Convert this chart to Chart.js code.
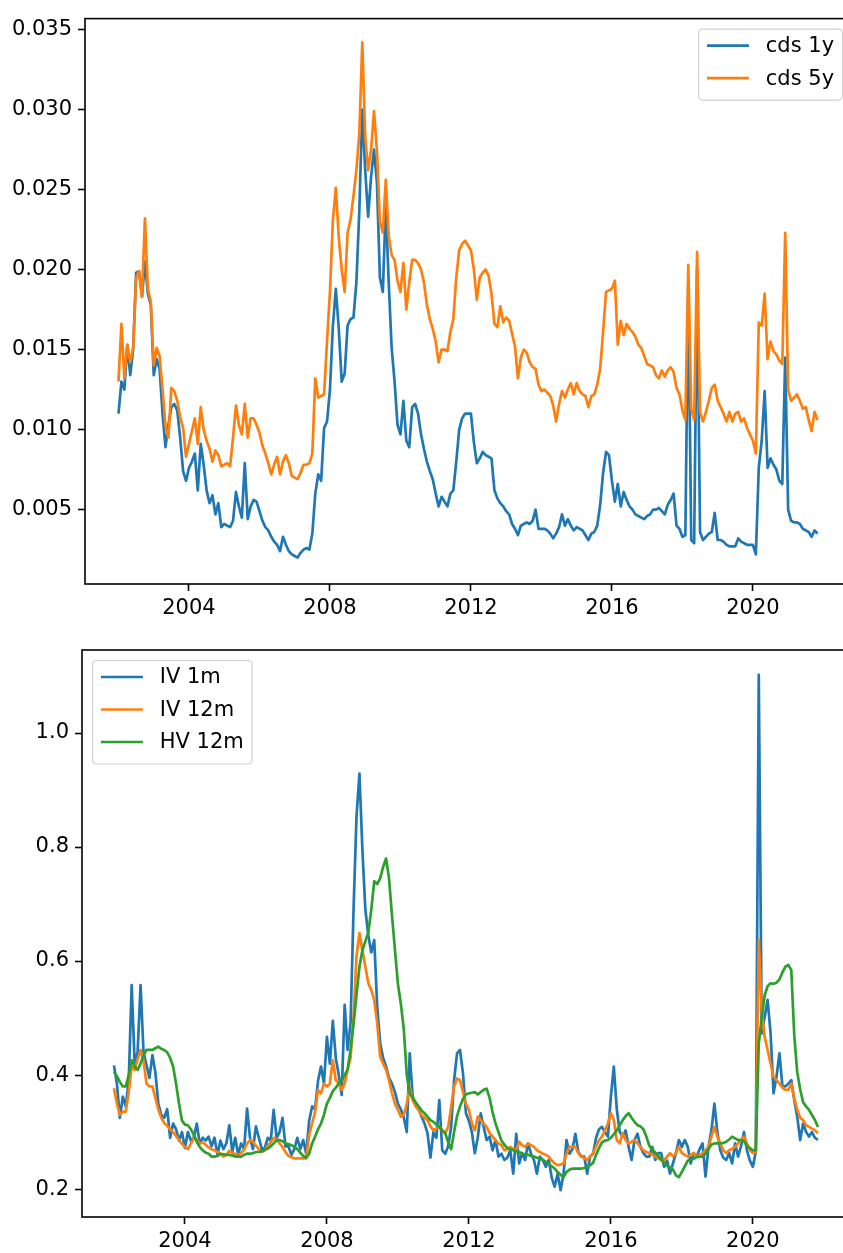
<!DOCTYPE html>
<html>
<head>
<meta charset="utf-8">
<script src="https://cdn.jsdelivr.net/npm/chart.js@4.4.1/dist/chart.umd.min.js"></script>
<style>
  html, body { margin: 0; padding: 0; background: #fff; overflow: hidden; width: 843px; height: 1253px; }
  .panel { position: absolute; left: 0; }
  #cds-panel { top: 0; }
  #vol-panel { top: 630px; }
</style>
</head>
<body>
<div class="panel" id="cds-panel"><canvas id="cds" width="860" height="630"></canvas></div>
<div class="panel" id="vol-panel"><canvas id="vol" width="862" height="623"></canvas></div>
<script>
// monthly series, first value is January 2002
const START_YEAR = 2002;

const xTickYears = [2004, 2008, 2012, 2016, 2020];
const cdsTicks = [0.005, 0.010, 0.015, 0.020, 0.025, 0.030, 0.035];
const volTicks = [0.2, 0.4, 0.6, 0.8, 1.0];

const cds1y = [
  0.0110, 0.0130, 0.0125, 0.0153, 0.0134, 0.0150, 0.0198, 0.0199, 0.0183, 0.0205, 0.0185, 0.0178,
  0.0134, 0.0144, 0.0138, 0.0110, 0.0089, 0.0103, 0.0114, 0.0116, 0.0112, 0.0095, 0.0074, 0.0068,
  0.0076, 0.0080, 0.0085, 0.0062, 0.0091, 0.0078, 0.0062, 0.0054, 0.0059, 0.0047, 0.0054, 0.0039,
  0.0041, 0.0040, 0.0039, 0.0043, 0.0061, 0.0052, 0.0045, 0.0079, 0.0044, 0.0052, 0.0056, 0.0055,
  0.0049, 0.0043, 0.0039, 0.0037, 0.0033, 0.0030, 0.0028, 0.0024, 0.0033, 0.0028, 0.0024, 0.0022,
  0.0021, 0.0020, 0.0023, 0.0025, 0.0026, 0.0025, 0.0035, 0.0060, 0.0072, 0.0068, 0.0101, 0.0105,
  0.0125, 0.0165, 0.0188, 0.0163, 0.0130, 0.0135, 0.0165, 0.0169, 0.0170, 0.0192, 0.0237, 0.0300,
  0.0262, 0.0233, 0.0258, 0.0275, 0.0254, 0.0195, 0.0186, 0.0240, 0.0192, 0.0151, 0.0130, 0.0103,
  0.0097, 0.0118, 0.0093, 0.0089, 0.0114, 0.0116, 0.0110, 0.0097, 0.0088, 0.0080, 0.0074, 0.0069,
  0.0060, 0.0052, 0.0058, 0.0055, 0.0052, 0.0060, 0.0062, 0.0080, 0.0100, 0.0107, 0.0110, 0.0110,
  0.0110, 0.0092, 0.0079, 0.0082, 0.0086, 0.0084, 0.0083, 0.0082, 0.0062, 0.0057, 0.0054, 0.0052,
  0.0049, 0.0047, 0.0041, 0.0038, 0.0034, 0.0040, 0.0041, 0.0042, 0.0041, 0.0043, 0.0050, 0.0038,
  0.0038, 0.0038, 0.0037, 0.0035, 0.0032, 0.0035, 0.0039, 0.0047, 0.0040, 0.0044, 0.0040, 0.0037,
  0.0039, 0.0038, 0.0037, 0.0034, 0.0031, 0.0035, 0.0036, 0.0040, 0.0053, 0.0073, 0.0086, 0.0084,
  0.0068, 0.0055, 0.0066, 0.0052, 0.0061, 0.0056, 0.0052, 0.0050, 0.0047, 0.0046, 0.0045, 0.0044,
  0.0046, 0.0047, 0.0050, 0.0050, 0.0051, 0.0049, 0.0047, 0.0053, 0.0056, 0.0060, 0.0040, 0.0038,
  0.0033, 0.0034, 0.0190, 0.0031, 0.0029, 0.0200, 0.0036, 0.0031, 0.0033, 0.0035, 0.0036, 0.0048,
  0.0031, 0.0031, 0.0030, 0.0028, 0.0027, 0.0027, 0.0027, 0.0032, 0.0030, 0.0029, 0.0028, 0.0028,
  0.0028, 0.0022, 0.0076, 0.0093, 0.0124, 0.0076, 0.0082, 0.0078, 0.0075, 0.0068, 0.0066, 0.0145,
  0.0050, 0.0043, 0.0042, 0.0042, 0.0041, 0.0038, 0.0037, 0.0036, 0.0033, 0.0037, 0.0035
];

const cds5y = [
  0.0130, 0.0166, 0.0132, 0.0153, 0.0142, 0.0151, 0.0195, 0.0199, 0.0183, 0.0232, 0.0188, 0.0180,
  0.0140, 0.0151, 0.0146, 0.0125, 0.0102, 0.0095, 0.0126, 0.0124, 0.0118, 0.0108, 0.0101, 0.0083,
  0.0091, 0.0099, 0.0107, 0.0091, 0.0114, 0.0100, 0.0093, 0.0088, 0.0080, 0.0087, 0.0084, 0.0077,
  0.0078, 0.0079, 0.0077, 0.0095, 0.0115, 0.0103, 0.0097, 0.0116, 0.0095, 0.0107, 0.0107, 0.0103,
  0.0098, 0.0090, 0.0085, 0.0079, 0.0072, 0.0078, 0.0083, 0.0072, 0.0080, 0.0084, 0.0079, 0.0071,
  0.0070, 0.0069, 0.0073, 0.0078, 0.0078, 0.0079, 0.0085, 0.0132, 0.0120, 0.0121, 0.0122, 0.0155,
  0.0186, 0.0231, 0.0251, 0.0220, 0.0200, 0.0186, 0.0223, 0.0231, 0.0246, 0.0262, 0.0285, 0.0342,
  0.0283, 0.0262, 0.0275, 0.0299, 0.0274, 0.0230, 0.0223, 0.0256, 0.0221, 0.0209, 0.0206, 0.0193,
  0.0186, 0.0204, 0.0175, 0.0192, 0.0206, 0.0206, 0.0204, 0.0200, 0.0192, 0.0178, 0.0169, 0.0163,
  0.0155, 0.0142, 0.0150, 0.0150, 0.0149, 0.0161, 0.0169, 0.0195, 0.0212, 0.0216, 0.0218, 0.0215,
  0.0212, 0.0200, 0.0181, 0.0195, 0.0198, 0.0200, 0.0196, 0.0185, 0.0166, 0.0164, 0.0177, 0.0167,
  0.0170, 0.0168, 0.0160, 0.0152, 0.0132, 0.0145, 0.0150, 0.0148, 0.0142, 0.0139, 0.0138, 0.0128,
  0.0124, 0.0125, 0.0123, 0.0121, 0.0115, 0.0105, 0.0116, 0.0124, 0.0120, 0.0125, 0.0129, 0.0122,
  0.0129, 0.0124, 0.0122, 0.0121, 0.0114, 0.0121, 0.0122, 0.0128, 0.0138, 0.0161, 0.0186, 0.0187,
  0.0188, 0.0193, 0.0153, 0.0168, 0.0159, 0.0166, 0.0163, 0.0161, 0.0158, 0.0153, 0.0151, 0.0146,
  0.0141, 0.0140, 0.0139, 0.0134, 0.0132, 0.0137, 0.0133, 0.0137, 0.0139, 0.0136, 0.0126, 0.0122,
  0.0112, 0.0106, 0.0203, 0.0113, 0.0106, 0.0211, 0.0111, 0.0105, 0.0111, 0.0118, 0.0126, 0.0128,
  0.0118, 0.0114, 0.0110, 0.0105, 0.0111, 0.0105, 0.0110, 0.0111, 0.0105, 0.0107, 0.0101, 0.0097,
  0.0093, 0.0085, 0.0167, 0.0165, 0.0185, 0.0144, 0.0155, 0.0149, 0.0147, 0.0143, 0.0141, 0.0223,
  0.0125, 0.0118, 0.0120, 0.0122, 0.0118, 0.0113, 0.0114, 0.0106, 0.0099, 0.0111, 0.0106
];

const iv1m = [
  0.417, 0.385, 0.325, 0.362, 0.345, 0.390, 0.558, 0.420, 0.440, 0.558, 0.440, 0.418,
  0.395, 0.435, 0.405, 0.350, 0.330, 0.325, 0.340, 0.290, 0.315, 0.305, 0.285, 0.300,
  0.272, 0.300, 0.285, 0.290, 0.315, 0.280, 0.290, 0.285, 0.292, 0.275, 0.290, 0.260,
  0.285, 0.270, 0.280, 0.312, 0.265, 0.290, 0.260, 0.280, 0.270, 0.341, 0.290, 0.270,
  0.310, 0.290, 0.270, 0.272, 0.290, 0.285, 0.339, 0.290, 0.300, 0.325, 0.275, 0.275,
  0.260, 0.270, 0.290, 0.270, 0.286, 0.262, 0.320, 0.345, 0.340, 0.390, 0.415, 0.385,
  0.467, 0.420, 0.495, 0.430, 0.400, 0.365, 0.523, 0.444, 0.491, 0.689, 0.853, 0.929,
  0.795, 0.690, 0.645, 0.615, 0.637, 0.520, 0.456, 0.430, 0.415, 0.395, 0.385, 0.370,
  0.350, 0.340, 0.325, 0.300, 0.438, 0.362, 0.350, 0.340, 0.327, 0.315, 0.298, 0.255,
  0.300, 0.290, 0.356, 0.268, 0.262, 0.275, 0.309, 0.391, 0.438, 0.444, 0.403, 0.333,
  0.320, 0.300, 0.263, 0.290, 0.333, 0.309, 0.286, 0.292, 0.268, 0.286, 0.257, 0.262,
  0.251, 0.255, 0.268, 0.227, 0.297, 0.245, 0.263, 0.251, 0.280, 0.262, 0.251, 0.227,
  0.257, 0.251, 0.239, 0.251, 0.220, 0.204, 0.227, 0.198, 0.227, 0.286, 0.262, 0.270,
  0.297, 0.265, 0.257, 0.257, 0.227, 0.257, 0.262, 0.290, 0.305, 0.309, 0.300, 0.292,
  0.362, 0.415, 0.340, 0.300, 0.292, 0.303, 0.274, 0.251, 0.286, 0.297, 0.274, 0.263,
  0.257, 0.257, 0.274, 0.251, 0.263, 0.263, 0.239, 0.250, 0.227, 0.245, 0.263, 0.286,
  0.274, 0.286, 0.274, 0.245, 0.263, 0.257, 0.270, 0.280, 0.222, 0.274, 0.303, 0.350,
  0.300, 0.268, 0.255, 0.251, 0.263, 0.245, 0.280, 0.257, 0.275, 0.300, 0.268, 0.250,
  0.239, 0.265, 1.102, 0.473, 0.502, 0.532, 0.473, 0.368, 0.397, 0.438, 0.380, 0.380,
  0.385, 0.391, 0.356, 0.327, 0.286, 0.315, 0.300, 0.292, 0.300, 0.290, 0.286
];

const iv12m = [
  0.377, 0.350, 0.330, 0.336, 0.336, 0.370, 0.415, 0.409, 0.428, 0.444, 0.425, 0.385,
  0.380, 0.380, 0.360, 0.340, 0.325, 0.316, 0.311, 0.305, 0.300, 0.293, 0.286, 0.279,
  0.274, 0.270, 0.280, 0.289, 0.287, 0.280, 0.282, 0.278, 0.273, 0.270, 0.268, 0.265,
  0.262, 0.257, 0.260, 0.267, 0.264, 0.261, 0.260, 0.263, 0.269, 0.280, 0.286, 0.283,
  0.276, 0.270, 0.265, 0.268, 0.276, 0.282, 0.290, 0.288, 0.280, 0.274, 0.265, 0.258,
  0.256, 0.254, 0.254, 0.254, 0.254, 0.254, 0.295, 0.315, 0.335, 0.374, 0.368, 0.385,
  0.380, 0.385, 0.426, 0.391, 0.385, 0.374, 0.385, 0.409, 0.430, 0.502, 0.608, 0.649,
  0.619, 0.590, 0.561, 0.549, 0.532, 0.491, 0.432, 0.420, 0.409, 0.391, 0.368, 0.350,
  0.339, 0.327, 0.330, 0.350, 0.380, 0.356, 0.345, 0.339, 0.330, 0.325, 0.321, 0.310,
  0.303, 0.306, 0.309, 0.303, 0.298, 0.309, 0.344, 0.380, 0.394, 0.391, 0.370, 0.350,
  0.339, 0.315, 0.303, 0.327, 0.321, 0.315, 0.309, 0.298, 0.292, 0.286, 0.280, 0.277,
  0.268, 0.270, 0.274, 0.270, 0.268, 0.283, 0.277, 0.274, 0.280, 0.277, 0.274, 0.268,
  0.265, 0.262, 0.260, 0.257, 0.250, 0.245, 0.242, 0.243, 0.245, 0.262, 0.274, 0.274,
  0.274, 0.263, 0.257, 0.254, 0.251, 0.257, 0.263, 0.275, 0.286, 0.292, 0.303, 0.315,
  0.333, 0.321, 0.286, 0.280, 0.298, 0.286, 0.280, 0.283, 0.286, 0.280, 0.274, 0.268,
  0.265, 0.263, 0.260, 0.257, 0.254, 0.251, 0.251, 0.257, 0.263, 0.257, 0.263, 0.274,
  0.263, 0.260, 0.257, 0.260, 0.263, 0.257, 0.260, 0.263, 0.268, 0.274, 0.292, 0.309,
  0.292, 0.280, 0.268, 0.263, 0.268, 0.271, 0.274, 0.280, 0.286, 0.292, 0.280, 0.268,
  0.263, 0.265, 0.637, 0.514, 0.467, 0.444, 0.420, 0.397, 0.391, 0.385, 0.378, 0.374,
  0.374, 0.385, 0.360, 0.339, 0.325, 0.321, 0.312, 0.309, 0.306, 0.303, 0.298
];

const hv12m = [
  0.406, 0.398, 0.388, 0.380, 0.380, 0.400, 0.426, 0.415, 0.409, 0.420, 0.435, 0.444,
  0.444, 0.444, 0.447, 0.450, 0.446, 0.444, 0.440, 0.430, 0.415, 0.385, 0.350, 0.320,
  0.313, 0.312, 0.305, 0.295, 0.283, 0.274, 0.268, 0.264, 0.262, 0.257, 0.257, 0.258,
  0.262, 0.261, 0.260, 0.260, 0.259, 0.257, 0.257, 0.257, 0.260, 0.262, 0.262, 0.263,
  0.265, 0.265, 0.266, 0.269, 0.271, 0.275, 0.280, 0.286, 0.286, 0.284, 0.280, 0.279,
  0.277, 0.274, 0.270, 0.264, 0.258, 0.255, 0.262, 0.280, 0.292, 0.305, 0.315, 0.330,
  0.350, 0.360, 0.372, 0.378, 0.385, 0.390, 0.400, 0.410, 0.445, 0.490, 0.540, 0.590,
  0.619, 0.635, 0.650, 0.690, 0.740, 0.735, 0.745, 0.765, 0.780, 0.745, 0.680, 0.620,
  0.560, 0.525, 0.480, 0.400, 0.368, 0.360, 0.352, 0.345, 0.338, 0.333, 0.327, 0.321,
  0.318, 0.313, 0.309, 0.303, 0.298, 0.282, 0.270, 0.300, 0.328, 0.345, 0.358, 0.366,
  0.368, 0.369, 0.370, 0.366, 0.370, 0.374, 0.376, 0.360, 0.335, 0.315, 0.300, 0.285,
  0.278, 0.272, 0.270, 0.268, 0.266, 0.265, 0.262, 0.261, 0.260, 0.258, 0.257, 0.255,
  0.253, 0.251, 0.248, 0.244, 0.240, 0.236, 0.230, 0.225, 0.221, 0.230, 0.234, 0.236,
  0.236, 0.236, 0.236, 0.237, 0.239, 0.242, 0.246, 0.260, 0.272, 0.282, 0.285, 0.286,
  0.290, 0.296, 0.303, 0.312, 0.321, 0.328, 0.333, 0.325, 0.318, 0.312, 0.310, 0.305,
  0.292, 0.276, 0.269, 0.264, 0.258, 0.252, 0.246, 0.241, 0.238, 0.234, 0.224, 0.221,
  0.230, 0.240, 0.250, 0.251, 0.253, 0.256, 0.257, 0.257, 0.262, 0.270, 0.278, 0.280,
  0.280, 0.280, 0.281, 0.283, 0.287, 0.292, 0.289, 0.286, 0.286, 0.284, 0.276, 0.272,
  0.268, 0.268, 0.455, 0.500, 0.540, 0.556, 0.561, 0.560, 0.562, 0.568, 0.580, 0.590,
  0.593, 0.584, 0.470, 0.405, 0.375, 0.352, 0.345, 0.339, 0.330, 0.321, 0.309
];

const BLUE = "#1f77b4";
const ORANGE = "#ff7f0e";
const GREEN = "#2ca02c";
const FONT = { family: "'DejaVu Sans', sans-serif", size: 21 };

// place each value at its month as a decimal year
function monthly(values) {
  return values.map((v, i) => ({ x: START_YEAR + i / 12, y: v }));
}

function lineSet(label, values, color, order) {
  return {
    label,
    data: monthly(values),
    borderColor: color,
    backgroundColor: color,
    borderWidth: 2.7,
    pointRadius: 0,
    tension: 0,
    borderJoinStyle: "round",
    order,
  };
}

// closed box around the plot area, drawn over the lines like matplotlib spines
const frame = {
  id: "frame",
  afterDatasetsDraw(chart) {
    const { ctx, chartArea } = chart;
    ctx.save();
    ctx.strokeStyle = "#000";
    ctx.lineWidth = 1.6;
    ctx.strokeRect(chartArea.left, chartArea.top, chartArea.right - chartArea.left, chartArea.bottom - chartArea.top);
    ctx.restore();
  },
};

// legend box inside the axes, top-left or top-right corner
const insetLegend = {
  id: "insetLegend",
  afterDraw(chart, args, opts) {
    const { ctx, chartArea } = chart;
    const em = FONT.size;
    const items = chart.data.datasets;
    ctx.save();
    ctx.font = `${em}px ${FONT.family}`;
    const textW = Math.max(...items.map((d) => ctx.measureText(d.label).width));
    const pad = 0.4 * em, handle = 2 * em, gap = 0.8 * em, axPad = 0.5 * em;
    const rowH = 32.5, first = 16.5, last = 22;
    const w = 2 * pad + handle + gap + textW;
    const h = first + (items.length - 1) * rowH + last;
    const x = opts.corner === "right" ? chartArea.right - axPad - w : chartArea.left + axPad;
    const y = chartArea.top + axPad;

    ctx.beginPath();
    ctx.roundRect(x, y, w, h, 4);
    ctx.fillStyle = "rgba(255,255,255,0.8)";
    ctx.fill();
    ctx.strokeStyle = "#d0d0d0";
    ctx.lineWidth = 1.2;
    ctx.stroke();

    items.forEach((d, i) => {
      const cy = y + first + i * rowH;
      ctx.beginPath();
      ctx.moveTo(x + pad, cy);
      ctx.lineTo(x + pad + handle, cy);
      ctx.strokeStyle = d.borderColor;
      ctx.lineWidth = d.borderWidth;
      ctx.stroke();
      ctx.fillStyle = "#000";
      ctx.textBaseline = "middle";
      ctx.fillText(d.label, x + pad + handle + gap, cy + 1);
    });
    ctx.restore();
  },
};

function axes({ xMin, xMax, yMin, yMax, yTicks, yDigits, yWidth, xHeight }) {
  const tickGrid = {
    display: true,
    drawOnChartArea: false,
    drawTicks: true,
    tickLength: 7,
    tickWidth: 1.6,
    color: "#000",
  };
  return {
    x: {
      type: "linear",
      min: xMin,
      max: xMax,
      afterBuildTicks: (scale) => { scale.ticks = xTickYears.map((v) => ({ value: v })); },
      afterFit: (scale) => { scale.height = xHeight; },
      grid: tickGrid,
      border: { display: false },
      ticks: { color: "#000", font: FONT, padding: 5, maxRotation: 0, callback: (v) => String(v) },
    },
    y: {
      type: "linear",
      min: yMin,
      max: yMax,
      afterBuildTicks: (scale) => { scale.ticks = yTicks.map((v) => ({ value: v })); },
      afterFit: (scale) => { scale.width = yWidth; },
      grid: tickGrid,
      border: { display: false },
      ticks: { color: "#000", font: FONT, padding: 6, callback: (v) => Number(v).toFixed(yDigits) },
    },
  };
}

function baseOptions(padding, scales, corner) {
  return {
    responsive: false,
    animation: false,
    events: [],
    layout: { padding },
    plugins: {
      legend: { display: false },
      tooltip: { enabled: false },
      insetLegend: { corner },
    },
    scales,
  };
}

new Chart(document.getElementById("cds"), {
  type: "line",
  data: {
    datasets: [
      lineSet("cds 1y", cds1y, BLUE, 2),
      lineSet("cds 5y", cds5y, ORANGE, 1),
    ],
  },
  options: baseOptions(
    { top: 14, right: 7, left: 0, bottom: 0 },
    axes({ xMin: 2001.05, xMax: 2022.84, yMin: 0.00035, yMax: 0.03568, yTicks: cdsTicks, yDigits: 3, yWidth: 85, xHeight: 46 }),
    "right"
  ),
  plugins: [frame, insetLegend],
});

new Chart(document.getElementById("vol"), {
  type: "line",
  data: {
    datasets: [
      lineSet("IV 1m", iv1m, BLUE, 3),
      lineSet("IV 12m", iv12m, ORANGE, 2),
      lineSet("HV 12m", hv12m, GREEN, 1),
    ],
  },
  options: baseOptions(
    { top: 20, right: 8, left: 0, bottom: 0 },
    axes({ xMin: 2001.10, xMax: 2022.85, yMin: 0.151, yMax: 1.1456, yTicks: volTicks, yDigits: 1, yWidth: 82, xHeight: 36 }),
    "left"
  ),
  plugins: [frame, insetLegend],
});
</script>
</body>
</html>
